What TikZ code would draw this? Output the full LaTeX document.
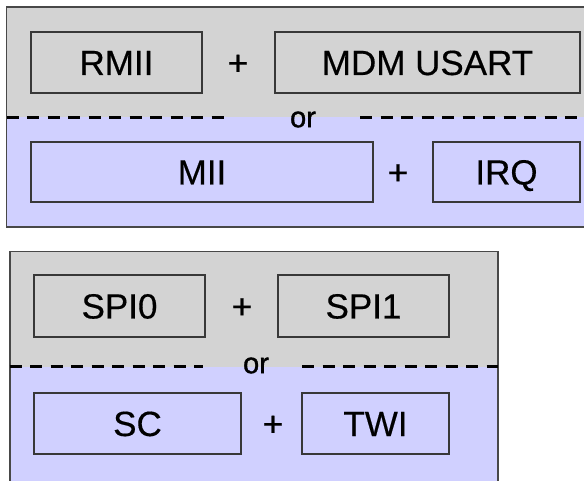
\documentclass[tikz,border=0pt]{standalone}
\usepackage{fontspec}
\setmainfont{Liberation Sans}
\newfontfamily\labelfont[FakeBold=0.4]{Liberation Sans}
\newfontfamily\orfont[FakeBold=1.2]{Liberation Sans}
\definecolor{panelgray}{HTML}{D3D3D3}
\definecolor{panelblue}{HTML}{D0D0FF}
\definecolor{edgecol}{HTML}{383838}
\definecolor{framecol}{HTML}{484848}
\begin{document}
\begin{tikzpicture}[x=1pt,y=-1pt,
  box/.style={draw=edgecol, line width=1.3pt, rectangle, inner sep=0pt,
    font=\labelfont\fontsize{35}{40}\selectfont, text height=25pt, text depth=0pt},
  plus/.style={font=\labelfont\fontsize{35}{40}\selectfont, inner sep=0pt,
    text height=25pt, text depth=0pt},
  ortext/.style={font=\orfont\fontsize{29}{34}\selectfont, inner sep=0pt},
  sepline/.style={line width=2.9pt, dash pattern=on 12pt off 8.5pt},
  frame/.style={draw=framecol, line width=1.6pt}]
\useasboundingbox (0,0) rectangle (584,481);
\clip (0,0) rectangle (584,481);
\fill[white] (0,0) rectangle (584,481);

% ---------- panel 1 ----------
\fill[panelgray] (6.5,7) rectangle (590,117.5);
\fill[panelblue] (6.5,117.5) rectangle (590,227);
\draw[frame] (6.5,7) rectangle (590,227);
\draw[sepline] (6.5,117.5) -- (231,117.5);
\draw[sepline] (360,117.5) -- (590,117.5);
\node[ortext] (or1) at (303,119.5) {or};

\node[box, minimum width=171pt, minimum height=61pt] (rmii) at (116.5,62.5) {RMII};
\node[plus] (plus1) at (238,62.5) {+};
\node[box, minimum width=305pt, minimum height=61pt] (mdm) at (427.5,62.5) {MDM USART};

\node[box, minimum width=342pt, minimum height=60pt] (mii) at (202,172) {MII};
\node[plus] (plus2) at (398,172) {+};
\node[box, minimum width=147pt, minimum height=60pt] (irq) at (506.5,172) {IRQ};

% ---------- panel 2 ----------
\fill[panelgray] (9.7,251.5) rectangle (497.7,366.5);
\fill[panelblue] (9.7,366.5) rectangle (497.7,495);
\draw[frame] (9.7,251.5) rectangle (497.7,495);
\draw[sepline] (9.7,366.5) -- (203,366.5);
\draw[sepline] (302,366.5) -- (497.7,366.5);
\node[ortext] (or2) at (256,365.5) {or};

\node[box, minimum width=171pt, minimum height=62pt] (spi0) at (119.5,306) {SPI0};
\node[plus] (plus3) at (242,306) {+};
\node[box, minimum width=171pt, minimum height=62pt] (spi1) at (363.5,306) {SPI1};

\node[box, minimum width=207pt, minimum height=61pt] (sc) at (137.5,423.5) {SC};
\node[plus] (plus4) at (273,423.5) {+};
\node[box, minimum width=147pt, minimum height=61pt] (twi) at (375.5,423.5) {TWI};
\end{tikzpicture}
\end{document}
